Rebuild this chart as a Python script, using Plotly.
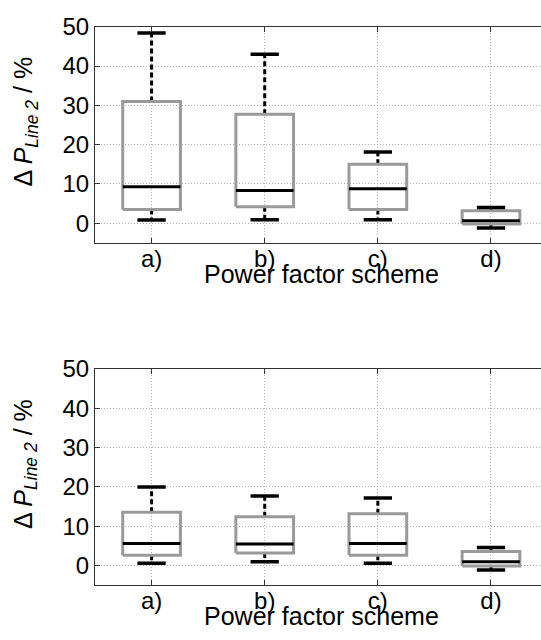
import plotly.graph_objects as go

cats = ["a)", "b)", "c)", "d)"]

# top panel
top_lower = [0.8, 0.9, 0.9, -1.2]
top_q1 = [3.5, 4.2, 3.5, -0.2]
top_median = [9.3, 8.3, 8.8, 0.6]
top_q3 = [31.0, 27.7, 15.0, 3.2]
top_upper = [48.4, 43.0, 18.1, 4.0]

# bottom panel
bot_lower = [0.6, 1.0, 0.6, -1.1]
bot_q1 = [2.6, 3.2, 2.6, -0.1]
bot_median = [5.6, 5.5, 5.6, 1.0]
bot_q3 = [13.6, 12.4, 13.2, 3.6]
bot_upper = [20.0, 17.7, 17.2, 4.6]

y_title = "Δ <i>P</i><sub><i>Line 2</i></sub> / %"
x_title = "Power factor scheme"

FONT = "Liberation Sans, Arial, sans-serif"
BOX_HW = 0.255
CAP_HW = 0.125
GREY = "#9a9a9a"

fig = go.Figure()


def add_panel(lower, q1, med, q3, upper, xa, ya):
    pos = list(range(1, len(cats) + 1))
    bx, by = [], []
    mx, my = [], []
    wx, wy = [], []
    cx, cy = [], []
    for p, lo, a, m, b, up in zip(pos, lower, q1, med, q3, upper):
        bx += [p - BOX_HW, p + BOX_HW, p + BOX_HW, p - BOX_HW, p - BOX_HW, None]
        by += [a, a, b, b, a, None]
        mx += [p - BOX_HW, p + BOX_HW, None]
        my += [m, m, None]
        wx += [p, p, None, p, p, None]
        wy += [b, up, None, a, lo, None]
        cx += [p - CAP_HW, p + CAP_HW, None, p - CAP_HW, p + CAP_HW, None]
        cy += [up, up, None, lo, lo, None]
    common = dict(xaxis=xa, yaxis=ya, mode="lines", showlegend=False, hoverinfo="skip")
    fig.add_trace(go.Scatter(x=wx, y=wy, line=dict(color="black", width=3, dash="5px,3px"), **common))
    fig.add_trace(go.Scatter(x=bx, y=by, line=dict(color=GREY, width=3), **common))
    fig.add_trace(go.Scatter(x=mx, y=my, line=dict(color="black", width=3), **common))
    fig.add_trace(go.Scatter(x=cx, y=cy, line=dict(color="black", width=3.5), **common))


add_panel(top_lower, top_q1, top_median, top_q3, top_upper, "x", "y")
add_panel(bot_lower, bot_q1, bot_median, bot_q3, bot_upper, "x2", "y2")

xcommon = dict(
    range=[0.5, 4.442], tickvals=[1, 2, 3, 4], ticktext=cats,
    showline=True, linecolor="#333333", linewidth=1, mirror="ticks",
    ticks="inside", ticklen=5, tickcolor="#333333",
    showgrid=True, gridcolor="#b0b0b0", griddash="1px,2px", gridwidth=1,
    zeroline=False, tickfont=dict(size=24, color="black"),
    ticklabelstandoff=-6,
)
ycommon = dict(
    range=[-5, 50], tickvals=[0, 10, 20, 30, 40, 50],
    showline=True, linecolor="#333333", linewidth=1,
    ticks="inside", ticklen=5, tickcolor="#333333",
    showgrid=True, gridcolor="#b0b0b0", griddash="1px,2px", gridwidth=1,
    zeroline=False, tickfont=dict(size=24, color="black"),
)

fig.update_layout(
    width=541, height=640,
    margin=dict(l=0, r=0, t=0, b=0),
    paper_bgcolor="white", plot_bgcolor="white",
    font=dict(family=FONT, color="black"),
    xaxis=dict(domain=[0.1756, 1.0], anchor="y", **xcommon),
    yaxis=dict(domain=[0.6344, 0.9797], anchor="x", **ycommon),
    xaxis2=dict(domain=[0.1756, 1.0], anchor="y2", **xcommon),
    yaxis2=dict(domain=[0.0875, 0.4328], anchor="x2", **ycommon),
)

for xref, ycen, ytit in [("x", 1 - 266 / 640, 1 - 110 / 640), ("x2", 1 - 615 / 640, 1 - 460 / 640)]:
    fig.add_annotation(
        text=x_title, x=2.5, xref=xref, y=ycen, yref="paper",
        xanchor="center", yanchor="middle", showarrow=False,
        font=dict(size=25, family=FONT, color="black"),
    )
    fig.add_annotation(
        text=y_title, x=25 / 541, xref="paper", y=ytit, yref="paper",
        xanchor="center", yanchor="middle", showarrow=False, textangle=-90,
        font=dict(size=25, family=FONT, color="black"),
    )

fig.write_html("out.html")
